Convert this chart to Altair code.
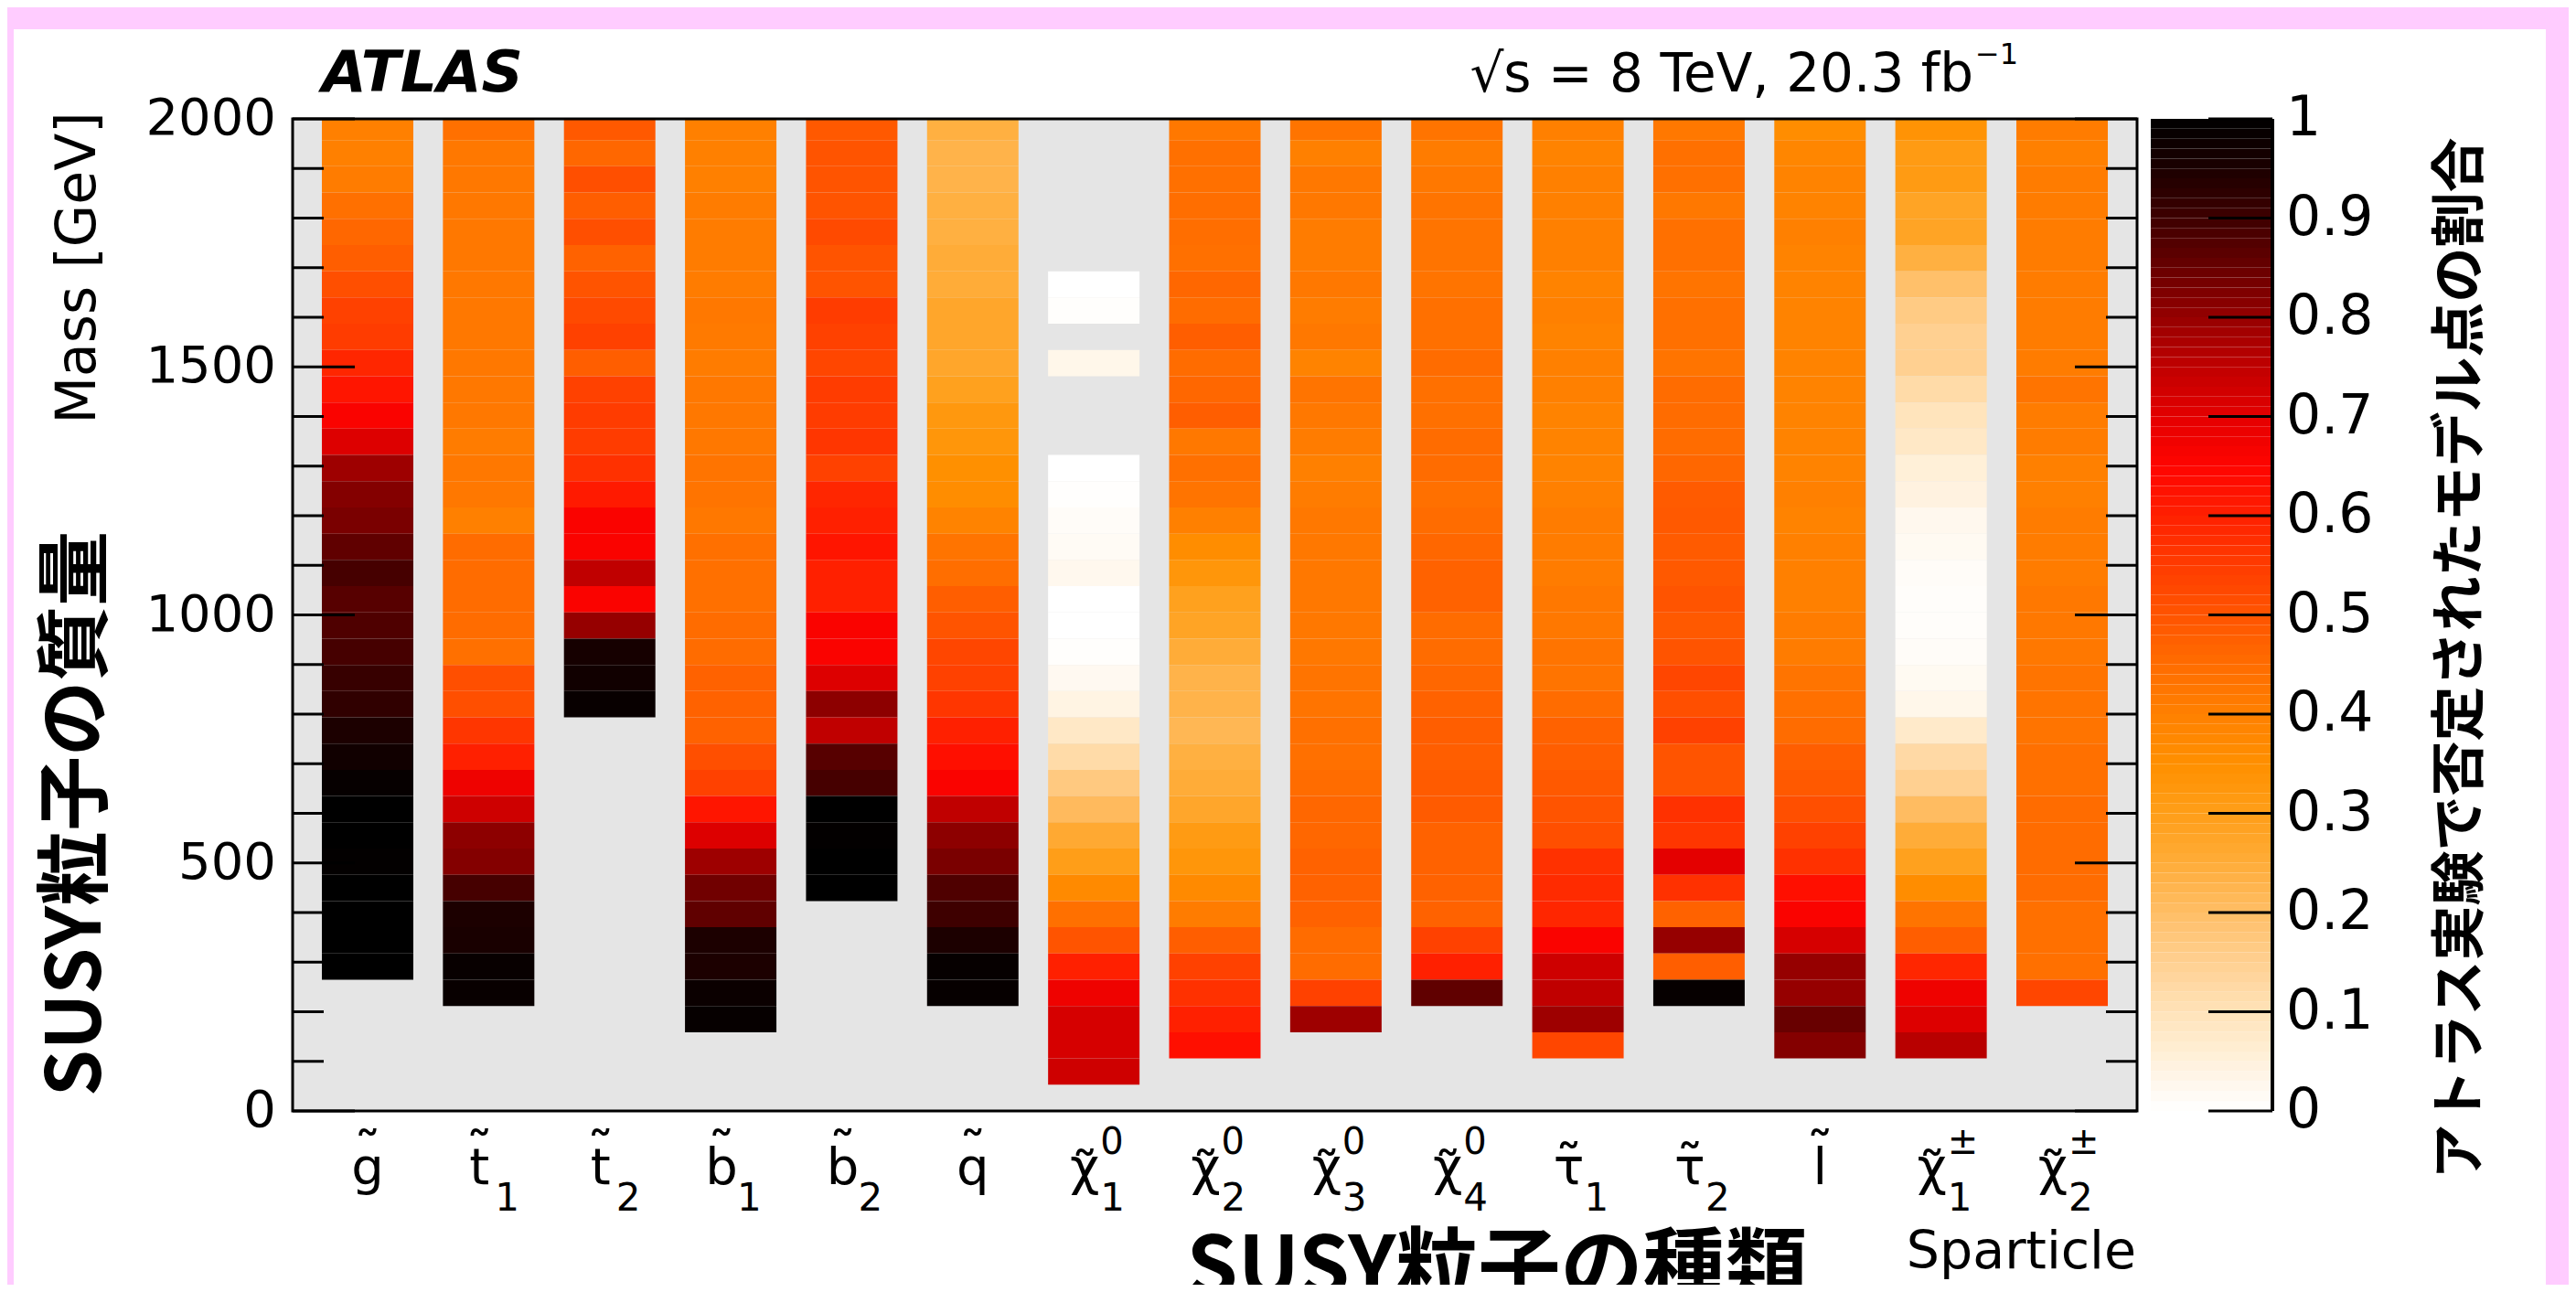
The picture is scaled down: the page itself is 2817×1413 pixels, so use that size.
import altair as alt
import pandas as pd

# ---------------- data ----------------
particles = ["g", "t1", "t2", "b1", "b2", "q", "chi10", "chi20", "chi30", "chi40",
             "tau1", "tau2", "l", "chi1pm", "chi2pm"]
label_base = ["g", "t", "t", "b", "b", "q", "χ", "χ", "χ", "χ", "τ", "τ", "l", "χ", "χ"]
label_sub = ["", "1", "2", "1", "2", "", "1", "2", "3", "4", "1", "2", "", "1", "2"]
label_sup = ["", "", "", "", "", "", "0", "0", "0", "0", "", "", "", "±", "±"]

BIN_GEV = 52.9          # mass bin width
top_bin = [37, 37, 37, 37, 37, 37, 31, 37, 37, 37, 37, 37, 37, 37, 37]

# excluded fraction per mass bin, listed from the top bin downwards (None = empty bin)
frac_g = [0.40, 0.40, 0.41, 0.44, 0.46, 0.48, 0.51, 0.54, 0.55, 0.59, 0.62, 0.66, 0.71, 0.79,
          0.82, 0.83, 0.86, 0.89, 0.87, 0.88, 0.89, 0.91, 0.92, 0.95, 0.97, 0.99, 1.0, 1.0,
          0.995, 1.0, 1.0, 1.0, 1.0]
frac_t1 = [0.44, 0.42, 0.42, 0.42, 0.42, 0.42, 0.42, 0.42, 0.42, 0.42, 0.42, 0.42, 0.41, 0.42,
           0.42, 0.40, 0.45, 0.45, 0.45, 0.45, 0.44, 0.51, 0.51, 0.56, 0.60, 0.68, 0.73, 0.81,
           0.82, 0.89, 0.95, 0.955, 0.985, 0.985]
frac_t2 = [0.49, 0.46, 0.51, 0.48, 0.51, 0.47, 0.50, 0.52, 0.54, 0.48, 0.54, 0.55, 0.55, 0.57,
           0.61, 0.66, 0.66, 0.75, 0.66, 0.80, 0.96, 0.97, 0.985]
frac_b1 = [0.40, 0.40, 0.40, 0.41, 0.41, 0.41, 0.41, 0.42, 0.415, 0.41, 0.42, 0.42, 0.42, 0.43,
           0.43, 0.42, 0.44, 0.44, 0.44, 0.45, 0.45, 0.47, 0.47, 0.47, 0.51, 0.54, 0.62, 0.71,
           0.79, 0.84, 0.86, 0.95, 0.95, 0.98, 0.99]
frac_b2 = [0.49, 0.50, 0.50, 0.50, 0.52, 0.50, 0.50, 0.55, 0.54, 0.53, 0.55, 0.55, 0.56, 0.54,
           0.59, 0.60, 0.62, 0.60, 0.60, 0.66, 0.66, 0.71, 0.81, 0.75, 0.87, 0.89, 1.0, 0.995,
           1.0, 1.0]
frac_q = [0.24, 0.23, 0.23, 0.24, 0.24, 0.25, 0.25, 0.27, 0.27, 0.27, 0.29, 0.32, 0.33, 0.35,
          0.36, 0.39, 0.43, 0.445, 0.48, 0.50, 0.53, 0.54, 0.56, 0.60, 0.63, 0.66, 0.75, 0.81,
          0.83, 0.88, 0.90, 0.95, 0.99, 0.99]
frac_chi10 = [0.0, 0.005, None, 0.03, None, None, None, 0.0, 0.003, 0.01, 0.015, 0.025, 0.0,
              0.0, 0.005, 0.02, 0.04, 0.08, 0.12, 0.17, 0.21, 0.26, 0.30, 0.37, 0.44, 0.50,
              0.60, 0.68, 0.72, 0.72, 0.73]
frac_chi20 = [0.42, 0.44, 0.44, 0.445, 0.445, 0.44, 0.46, 0.45, 0.48, 0.45, 0.46, 0.48, 0.42,
              0.44, 0.43, 0.40, 0.36, 0.33, 0.29, 0.28, 0.25, 0.23, 0.23, 0.22, 0.24, 0.25,
              0.27, 0.31, 0.33, 0.37, 0.41, 0.48, 0.54, 0.57, 0.60, 0.63]
frac_chi30 = [0.43, 0.40, 0.42, 0.42, 0.41, 0.41, 0.42, 0.41, 0.42, 0.39, 0.43, 0.42, 0.41,
              0.40, 0.41, 0.42, 0.42, 0.42, 0.42, 0.42, 0.42, 0.43, 0.43, 0.44, 0.44, 0.45,
              0.46, 0.46, 0.47, 0.47, 0.47, 0.45, 0.45, 0.54, 0.79]
frac_chi40 = [0.43, 0.41, 0.42, 0.43, 0.43, 0.43, 0.43, 0.44, 0.44, 0.45, 0.44, 0.44, 0.45,
              0.45, 0.44, 0.45, 0.46, 0.47, 0.47, 0.45, 0.45, 0.46, 0.47, 0.48, 0.48, 0.485,
              0.485, 0.47, 0.47, 0.47, 0.47, 0.54, 0.60, 0.86]
frac_tau1 = [0.40, 0.39, 0.40, 0.40, 0.40, 0.40, 0.39, 0.40, 0.39, 0.40, 0.40, 0.39, 0.39, 0.39,
             0.40, 0.41, 0.41, 0.41, 0.42, 0.42, 0.43, 0.43, 0.45, 0.47, 0.48, 0.49, 0.50,
             0.51, 0.57, 0.58, 0.59, 0.66, 0.73, 0.75, 0.79, 0.53]
frac_tau2 = [0.42, 0.44, 0.44, 0.42, 0.44, 0.44, 0.43, 0.44, 0.44, 0.43, 0.45, 0.45, 0.45, 0.46,
             0.485, 0.49, 0.485, 0.49, 0.50, 0.49, 0.50, 0.53, 0.51, 0.54, 0.50, 0.50, 0.57,
             0.56, 0.70, 0.57, 0.47, 0.80, 0.48, 0.99]
frac_l = [0.36, 0.38, 0.39, 0.39, 0.40, 0.39, 0.39, 0.39, 0.39, 0.39, 0.39, 0.39, 0.39, 0.39,
          0.40, 0.39, 0.40, 0.40, 0.40, 0.41, 0.41, 0.43, 0.44, 0.45, 0.48, 0.49, 0.51, 0.54,
          0.57, 0.63, 0.66, 0.72, 0.80, 0.80, 0.85, 0.82]
frac_chi1pm = [0.34, 0.31, 0.31, 0.28, 0.28, 0.24, 0.195, 0.165, 0.15, 0.15, 0.12, 0.095, 0.08,
               0.055, 0.045, 0.025, 0.018, 0.01, 0.007, 0.007, 0.01, 0.018, 0.03, 0.075,
               0.125, 0.15, 0.205, 0.25, 0.29, 0.36, 0.43, 0.48, 0.59, 0.68, 0.71, 0.76]
frac_chi2pm = [0.41, 0.40, 0.41, 0.41, 0.41, 0.41, 0.41, 0.41, 0.41, 0.41, 0.43, 0.41, 0.41,
               0.40, 0.40, 0.41, 0.41, 0.41, 0.42, 0.42, 0.42, 0.43, 0.43, 0.43, 0.44, 0.44,
               0.45, 0.45, 0.45, 0.45, 0.44, 0.44, 0.44, 0.53]

fractions = [frac_g, frac_t1, frac_t2, frac_b1, frac_b2, frac_q, frac_chi10, frac_chi20,
             frac_chi30, frac_chi40, frac_tau1, frac_tau2, frac_l, frac_chi1pm, frac_chi2pm]

mass_ticks = list(range(0, 2001, 100))
mass_labels = [0, 500, 1000, 1500, 2000]
cbar_ticks = [0, 0.1, 0.2, 0.3, 0.4, 0.5, 0.6, 0.7, 0.8, 0.9, 1]
cbar_levels = [i / 100 for i in range(100)]

# palette (value -> colour)
pal_stops = [0.0, 0.05, 0.10, 0.15, 0.20, 0.25, 0.30, 0.35, 0.40, 0.45, 0.50,
             0.55, 0.60, 0.65, 0.70, 0.75, 0.80, 0.85, 0.90, 0.95, 1.0]
pal_colors = ["#ffffff", "#fff1dc", "#ffe2b8", "#ffd091", "#ffbe66", "#ffac38", "#ff9e18",
              "#ff9000", "#ff8000", "#ff6c00", "#ff5400", "#ff3c00", "#ff2000", "#ff0400",
              "#e40000", "#c00000", "#960000", "#680000", "#3e0000", "#1c0000", "#000000"]

# ---------------- tables ----------------
rows = []
for p, top, vals in zip(particles, top_bin, fractions):
    for i, v in enumerate(vals):
        if v is None:
            continue
        k = top - i
        rows.append({"particle": p, "lo": k * BIN_GEV,
                     "hi": min((k + 1) * BIN_GEV, 2000.0), "frac": v})
df_heat = pd.DataFrame(rows)

df_lab = pd.DataFrame({"particle": particles, "base": label_base,
                       "sub": label_sub, "sup": label_sup})
df_mt = pd.DataFrame({"m": mass_ticks, "major": [m % 500 == 0 for m in mass_ticks]})
df_ml = pd.DataFrame({"m": mass_labels, "lab": [str(m) for m in mass_labels]})
df_cb = pd.DataFrame({"lo": cbar_levels, "hi": [v + 0.01 for v in cbar_levels],
                      "mid": [v + 0.005 for v in cbar_levels]})
df_ct = pd.DataFrame({"t": cbar_ticks, "lab": [f"{v:g}" for v in cbar_ticks]})
one = pd.DataFrame({"a": [0]})

W, H = 2017, 1085
LATIN = "DejaVu Sans"
CJK = "Noto Sans CJK JP"

xscale = alt.Scale(type="band", domain=particles, paddingInner=0.2445, paddingOuter=0.2417)
yscale = alt.Scale(domain=[0, 2000], nice=False, zero=False)
cscale = alt.Scale(type="linear", domain=pal_stops, range=pal_colors, clamp=True,
                   interpolate="rgb")
cbscale = alt.Scale(domain=[0, 1], nice=False, zero=False)

# ---------------- main panel ----------------
white_panel = alt.Chart(one).mark_rect(color="white").encode(
    x=alt.value(-305), x2=alt.value(2464), y=alt.value(-98), y2=alt.value(1290))
plot_bg = alt.Chart(one).mark_rect(color="#e5e5e5").encode(
    x=alt.value(0), x2=alt.value(W), y=alt.value(0), y2=alt.value(H))

heat = alt.Chart(df_heat).mark_rect().encode(
    x=alt.X("particle:N", scale=xscale, axis=None),
    y=alt.Y("lo:Q", scale=yscale, axis=None),
    y2="hi:Q",
    color=alt.Color("frac:Q", scale=cscale, legend=None),
)


def tick_layer(major, right):
    ln = 68 if major else 34
    x0, x1 = (W - ln, W) if right else (0, ln)
    flt = "datum.major" if major else "!datum.major"
    return alt.Chart(df_mt).transform_filter(flt).mark_rule(
        color="black", strokeWidth=3).encode(
        x=alt.value(x0), x2=alt.value(x1),
        y=alt.Y("m:Q", scale=yscale, axis=None))


ticks = [tick_layer(True, False), tick_layer(False, False),
         tick_layer(True, True), tick_layer(False, True)]

ylabels = alt.Chart(df_ml).mark_text(
    font=LATIN, fontSize=56, align="right", baseline="middle", color="black").encode(
    x=alt.value(-18), y=alt.Y("m:Q", scale=yscale, axis=None), text="lab:N")

frame = alt.Chart(one).mark_rect(fillOpacity=0, stroke="black", strokeWidth=3).encode(
    x=alt.value(0), x2=alt.value(W), y=alt.value(0), y2=alt.value(H))

has_idx = "datum.sub != '' || datum.sup != ''"
no_idx = "datum.sub == '' && datum.sup == ''"
xlab = alt.X("particle:N", scale=xscale, axis=None)

base_idx = alt.Chart(df_lab).transform_filter(has_idx).mark_text(
    font=LATIN, fontSize=56, dx=-10, align="center", baseline="alphabetic",
    color="black").encode(x=xlab, y=alt.value(1165), text="base:N")
base_plain = alt.Chart(df_lab).transform_filter(no_idx).mark_text(
    font=LATIN, fontSize=56, align="center", baseline="alphabetic",
    color="black").encode(x=xlab, y=alt.value(1165), text="base:N")


def tilde_layer(flt, dx, y):
    return alt.Chart(df_lab).transform_filter(flt).mark_text(
        font=LATIN, fontSize=60, dx=dx, align="center", baseline="alphabetic",
        color="black", text="˜").encode(x=xlab, y=alt.value(y))


tildes = [
    tilde_layer(no_idx, 0, 1151),
    tilde_layer("(datum.sub != '' || datum.sup != '') && datum.base != 'χ' && datum.base != 'τ'",
                -10, 1151),
    tilde_layer("datum.base == 'τ'", -10, 1165),
    tilde_layer("datum.base == 'χ'", -10, 1173),
]
subs = alt.Chart(df_lab).transform_filter("datum.sub != ''").mark_text(
    font=LATIN, fontSize=42, dx=7, align="left", baseline="alphabetic",
    color="black").encode(x=xlab, y=alt.value(1194), text="sub:N")
sups = alt.Chart(df_lab).transform_filter("datum.sup != ''").mark_text(
    font=LATIN, fontSize=40, dx=7, align="left", baseline="alphabetic",
    color="black").encode(x=xlab, y=alt.value(1132), text="sup:N")


def txt(s, x, y, **kw):
    return alt.Chart(one).mark_text(text=s, color="black", **kw).encode(
        x=alt.value(x), y=alt.value(y))


texts = [
    txt("ATLAS", 32, -30, font=LATIN, fontSize=63, fontWeight="bold", fontStyle="italic",
        align="left", baseline="alphabetic"),
    txt("√s = 8 TeV, 20.3 fb", 1838, -30, font=LATIN, fontSize=58, align="right",
        baseline="alphabetic"),
    txt("−1", 1840, -60, font=LATIN, fontSize=32, align="left", baseline="alphabetic"),
    txt("Mass [GeV]", -234, 163, font=LATIN, fontSize=60, angle=270, align="center",
        baseline="middle"),
    txt("SUSY粒子の質量", -235, 760, font=CJK, fontSize=82, fontWeight="bold", angle=270,
        align="center", baseline="middle"),
    txt("SUSY粒子の種類", 1317, 1287, font=CJK, fontSize=90, fontWeight="bold",
        align="center", baseline="alphabetic"),
    txt("Sparticle", 2016, 1257, font=LATIN, fontSize=57, align="right",
        baseline="alphabetic"),
    txt("アトラス実験で否定されたモデル点の割合", 2372, 590, font=CJK, fontSize=60,
        fontWeight="bold", angle=270, align="center", baseline="middle"),
]

main = alt.layer(white_panel, plot_bg, heat, *ticks, frame, ylabels,
                 base_idx, base_plain, *tildes, subs, sups, *texts)

# ---------------- colour bar ----------------
CB0, CB1 = 2032, 2165
cbar = alt.Chart(df_cb).mark_rect().encode(
    x=alt.value(CB0), x2=alt.value(CB1),
    y=alt.Y("lo:Q", scale=cbscale, axis=None),
    y2="hi:Q",
    color=alt.Color("mid:Q", scale=cscale, legend=None),
)
cbar_tick = alt.Chart(df_ct).mark_rule(color="black", strokeWidth=3).encode(
    x=alt.value(2095), x2=alt.value(CB1),
    y=alt.Y("t:Q", scale=cbscale, axis=None))
cbar_label = alt.Chart(df_ct).mark_text(
    font=LATIN, fontSize=60, align="left", baseline="middle", color="black").encode(
    x=alt.value(2180), y=alt.Y("t:Q", scale=cbscale, axis=None), text="lab:N")
cbar_edge = alt.Chart(one).mark_rule(color="black", strokeWidth=4).encode(
    x=alt.value(CB1), y=alt.value(0), y2=alt.value(H))
cbar_layer = alt.layer(cbar, cbar_tick, cbar_edge, cbar_label)

chart = alt.layer(main, cbar_layer).resolve_scale(y="independent").properties(
    width=W, height=H,
    autosize=alt.AutoSizeParams(type="none"),
    padding={"left": 312, "top": 122, "right": 472, "bottom": 190},
).configure(background="#ffccff").configure_view(stroke="transparent")

chart.save("out.html", embed_options={"renderer": "svg", "actions": False})
